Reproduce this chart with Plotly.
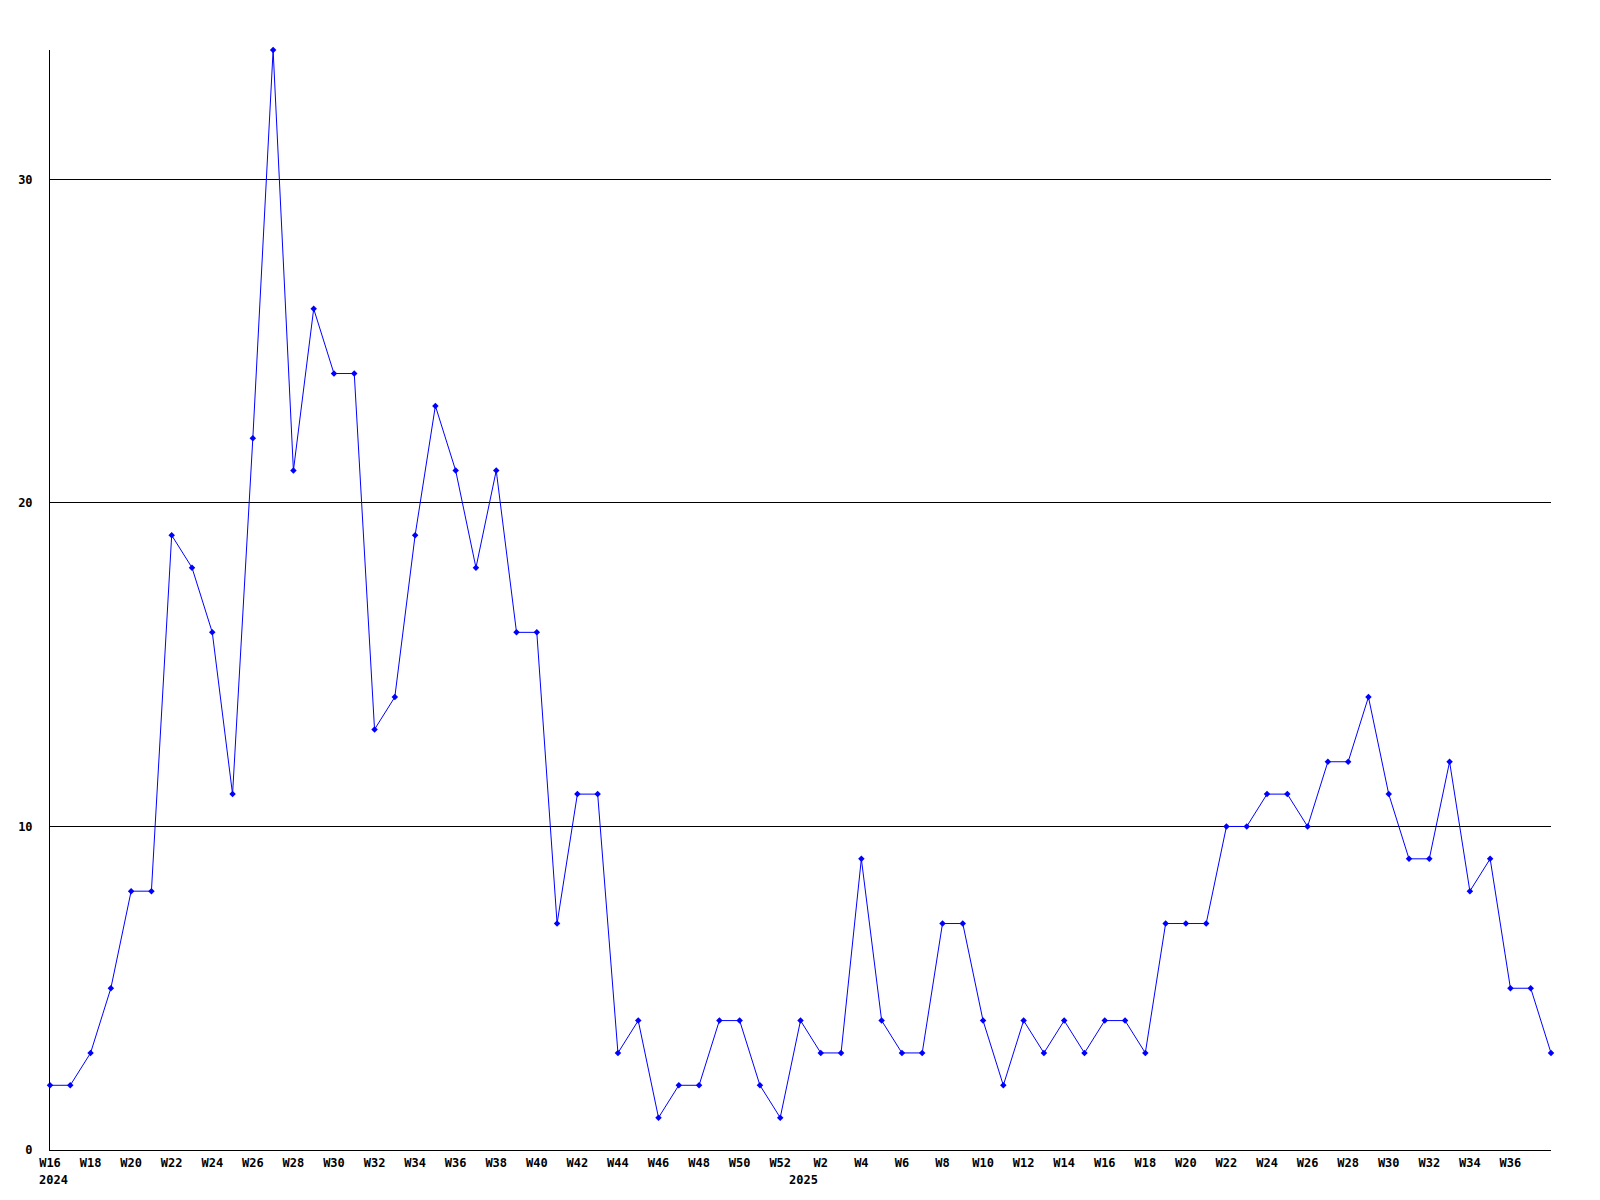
import plotly.graph_objects as go

weeks_2024 = [f"W{w}" for w in range(16, 53)]
weeks_2025 = [f"W{w}" for w in range(1, 39)]
week_labels = weeks_2024 + weeks_2025

values = [2, 2, 3, 5, 8, 8, 19, 18, 16, 11, 22, 34, 21, 26, 24, 24, 13, 14, 19, 23,
          21, 18, 21, 16, 16, 7, 11, 11, 3, 4, 1, 2, 2, 4, 4, 2, 1,
          4, 3, 3, 9, 4, 3, 3, 7, 7, 4, 2, 4, 3, 4, 3, 4, 4, 3, 7, 7, 7, 10, 10,
          11, 11, 10, 12, 12, 14, 11, 9, 9, 12, 8, 9, 5, 5, 3]

year_labels = ["2024", "2025"]
year_positions = [0, len(weeks_2024)]

x_idx = list(range(len(values)))
tick_vals = x_idx[:-1:2]
tick_text = [week_labels[i] for i in tick_vals]

font_family = "DejaVu Sans Mono"

fig = go.Figure()
fig.add_trace(go.Scatter(
    x=x_idx, y=values, mode="lines+markers",
    line=dict(color="#0000ff", width=1),
    marker=dict(symbol="diamond", size=5, color="#0000ff"),
    cliponaxis=False,
    hoverinfo="x+y",
))

for lbl, pos in zip(year_labels, year_positions):
    fig.add_annotation(
        x=pos, y=0, xref="x", yref="paper", text=f"<b>{lbl}</b>",
        showarrow=False, yshift=-30, xshift=3, yanchor="middle",
        font=dict(family=font_family, size=12, color="black"),
    )

fig.update_layout(
    width=1600, height=1200,
    margin=dict(l=42, r=57, t=42, b=58),
    paper_bgcolor="white", plot_bgcolor="white",
    showlegend=False,
    font=dict(family=font_family, size=12, color="black"),
    xaxis=dict(
        range=[0, len(values) - 1],
        tickmode="array", tickvals=tick_vals,
        ticktext=[f"<b>{t}</b>" for t in tick_text],
        showgrid=False, zeroline=False,
        showline=True, linecolor="black", linewidth=1,
        ticks="", ticklabelstandoff=2,
        tickangle=0, automargin=False,
    ),
    yaxis=dict(
        range=[0, 34],
        tickmode="array", tickvals=[0, 10, 20, 30],
        ticktext=["<b>0</b>", "<b>10</b>", "<b>20</b>", "<b>30</b>"],
        showgrid=True, gridcolor="black", gridwidth=1,
        zeroline=False,
        showline=True, linecolor="black", linewidth=1,
        ticks="", ticklabelstandoff=14, automargin=False,
    ),
)

fig.write_html("out.html")
